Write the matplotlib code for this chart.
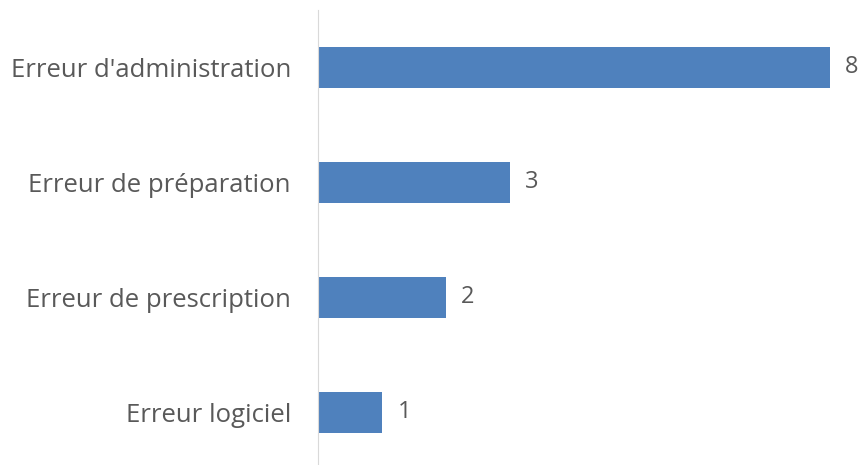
import matplotlib
matplotlib.use("Agg")
import matplotlib.pyplot as plt

plt.rcParams['font.family'] = ['Open Sans', 'DejaVu Sans']

categories = ["Erreur logiciel", "Erreur de prescription", "Erreur de préparation", "Erreur d'administration"]
counts = [1, 2, 3, 8]

fig = plt.figure(figsize=(8.63, 4.65), dpi=100)
ax = fig.add_axes([318 / 863, 0, 1 - 318 / 863, 1 - 10 / 465])

bars = ax.barh(range(len(categories)), counts, height=0.355, color="#4F81BD")
for i, v in enumerate(counts):
    ax.text(v + 0.24, i, str(v), va="center", ha="left", fontsize=17, color="#595959")

ax.set_yticks(range(len(categories)))
ax.set_yticklabels(categories, fontsize=18.5, color="#595959")
ax.tick_params(axis="y", length=0, pad=19.5)
ax.set_xticks([])
ax.set_xlim(0, 8.52)
ax.set_ylim(-0.46, 3.5)
for s in ["top", "right", "bottom"]:
    ax.spines[s].set_visible(False)
ax.spines["left"].set_color("#D9D9D9")

fig.savefig("out.png", dpi=100)
